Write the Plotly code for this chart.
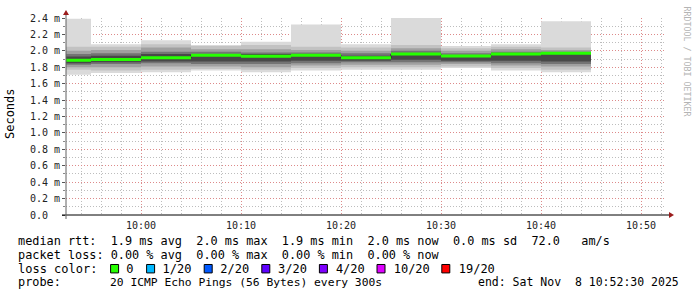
import plotly.graph_objects as go

# ---------------- data (values in milliseconds) ----------------
bin_starts = ["2025-11-08 09:52:30", "2025-11-08 09:55:00", "2025-11-08 10:00:00",
              "2025-11-08 10:05:00", "2025-11-08 10:10:00", "2025-11-08 10:15:00",
              "2025-11-08 10:20:00", "2025-11-08 10:25:00", "2025-11-08 10:30:00",
              "2025-11-08 10:35:00", "2025-11-08 10:40:00"]
bin_end = "2025-11-08 10:45:00"

median_ms = [1.885, 1.895, 1.915, 1.945, 1.935, 1.945, 1.915, 1.962, 1.938, 1.962, 1.970]
max_ms    = [2.39, 2.08, 2.13, 2.07, 2.11, 2.32, 2.08, 2.41, 2.06, 2.08, 2.36]
min_ms    = [1.71, 1.73, 1.74, 1.76, 1.74, 1.76, 1.77, 1.77, 1.79, 1.76, 1.74]
q2_hi     = [2.05, 2.05, 2.08, 2.06, 2.07, 2.05, 2.04, 2.07, 2.03, 2.05, 2.04]
q2_lo     = [1.77, 1.76, 1.77, 1.78, 1.77, 1.79, 1.80, 1.80, 1.81, 1.79, 1.77]
q3_hi     = [2.00, 2.01, 2.04, 2.02, 2.02, 2.01, 2.00, 2.03, 2.00, 2.02, 2.01]
q3_lo     = [1.80, 1.80, 1.81, 1.81, 1.80, 1.82, 1.83, 1.83, 1.84, 1.82, 1.81]
q4_hi     = [1.96, 1.97, 1.99, 1.99, 1.98, 1.98, 1.97, 2.00, 1.97, 1.99, 1.99]
q4_lo     = [1.83, 1.84, 1.85, 1.84, 1.84, 1.85, 1.86, 1.86, 1.86, 1.85, 1.84]
q5_hi     = [1.93, 1.94, 1.96, 1.96, 1.96, 1.96, 1.94, 1.97, 1.95, 1.97, 1.97]
q5_lo     = [1.85, 1.86, 1.87, 1.87, 1.87, 1.88, 1.88, 1.89, 1.88, 1.88, 1.87]

y_tick_vals = [0.0, 0.2, 0.4, 0.6, 0.8, 1.0, 1.2, 1.4, 1.6, 1.8, 2.0, 2.2, 2.4]
y_tick_text = ["0.0", "0.2 m", "0.4 m", "0.6 m", "0.8 m", "1.0 m", "1.2 m",
               "1.4 m", "1.6 m", "1.8 m", "2.0 m", "2.2 m", "2.4 m"]

loss_labels = ["0", "1/20", "2/20", "3/20", "4/20", "10/20", "19/20"]
loss_colors = ["#26ff00", "#00b8ff", "#0059ff", "#5e00ff", "#7e00ff", "#dd00ff", "#ff0000"]

legend_rtt = "median rtt:  1.9 ms avg  2.0 ms max  1.9 ms min  2.0 ms now  0.0 ms sd  72.0   am/s"
legend_loss = "packet loss: 0.00 % avg  0.00 % max  0.00 % min  0.00 % now"
legend_probe_key = "probe:"
legend_probe = "20 ICMP Echo Pings (56 Bytes) every 300s"
legend_end = "end: Sat Nov  8 10:52:30 2025"

# ---------------- geometry helpers ----------------
W, H = 697, 297
L, R, T, B = 66, 666, 16, 215
CW = 7.2  # monospace char width in loss-colour legend line

def px(x):
    return (x - L) / (R - L)

def py(y):
    return (B - y) / (B - T)

def nb(s):
    return s.replace(" ", "\u00a0")

xs = bin_starts + [bin_end]

def step(v):
    return list(v) + [v[-1]]

fig = go.Figure()

bands = [(min_ms, max_ms, "#dadada"), (q2_lo, q2_hi, "#c2c2c2"), (q3_lo, q3_hi, "#a0a0a0"),
         (q4_lo, q4_hi, "#747474"), (q5_lo, q5_hi, "#484848")]
for lo, hi, col in bands:
    fig.add_trace(go.Scatter(x=xs, y=step(lo), mode="lines", line=dict(width=0, shape="hv"),
                             hoverinfo="skip", showlegend=False))
    fig.add_trace(go.Scatter(x=xs, y=step(hi), mode="lines", line=dict(width=0, shape="hv"),
                             fill="tonexty", fillcolor=col, hoverinfo="skip", showlegend=False))

fig.add_trace(go.Scatter(x=xs, y=step(median_ms), mode="lines",
                         line=dict(width=1, shape="hv", color="#202020"),
                         hoverinfo="skip", showlegend=False))
gx, gy = [], []
for i, m in enumerate(median_ms):
    gx += [xs[i], xs[i + 1], None]
    gy += [m, m, None]
fig.add_trace(go.Scatter(x=gx, y=gy, mode="lines", line=dict(width=3, color=loss_colors[0]),
                         hoverinfo="skip", showlegend=False))

shapes = []
# axis lines and arrows
shapes.append(dict(type="line", xref="paper", yref="paper", x0=px(62), x1=px(670), y0=py(215), y1=py(215),
                   line=dict(color="#000000", width=1)))
shapes.append(dict(type="line", xref="paper", yref="paper", x0=px(66), x1=px(66), y0=py(219), y1=py(11),
                   line=dict(color="#606060", width=1)))
shapes.append(dict(type="path", xref="paper", yref="paper",
                   path=f"M {px(63)} {py(13)} L {px(69)} {py(13)} L {px(66)} {py(8)} Z",
                   fillcolor="#9b1c1c", line=dict(color="#9b1c1c", width=0)))
shapes.append(dict(type="path", xref="paper", yref="paper",
                   path=f"M {px(669)} {py(212)} L {px(669)} {py(218)} L {px(674)} {py(215)} Z",
                   fillcolor="#9b1c1c", line=dict(color="#9b1c1c", width=0)))

# loss color legend line
loss_line = "loss color:  "
box_idx = []
for lab in loss_labels:
    box_idx.append(len(loss_line))
    loss_line += "  " + lab + "  "
loss_line = loss_line.rstrip()
for idx, col in zip(box_idx, loss_colors):
    x0 = 16 + idx * CW + 1
    shapes.append(dict(type="rect", xref="paper", yref="paper", x0=px(x0), x1=px(x0 + 8),
                       y0=py(273.5), y1=py(265), fillcolor=col, line=dict(color="#000000", width=1)))

MONO = "DejaVu Sans Mono"
ann = []

def add_text(txt, x, y, size, anchor="left"):
    ann.append(dict(text=nb(txt), xref="paper", yref="paper", x=px(x), y=py(y), xanchor=anchor,
                    yanchor="middle", showarrow=False,
                    font=dict(family=MONO, size=size, color="#000000")))

add_text(legend_rtt, 16, 241.5, 11.85)
add_text(legend_loss, 16, 255.5, 11.85)
add_text(loss_line, 16, 269.5, 12)
add_text(legend_probe_key, 16, 283, 11.85)
add_text(legend_probe, 107.5, 283, 11.3)
add_text(legend_end, 681, 283, 11.5, anchor="right")

ann.append(dict(text="Seconds", xref="paper", yref="paper", x=px(10), y=py(113), xanchor="center",
                yanchor="middle", textangle=-90, showarrow=False,
                font=dict(family=MONO, size=12, color="#000000")))
ann.append(dict(text=nb("RRDTOOL / TOBI OETIKER"), xref="paper", yref="paper", x=px(687), y=py(60),
                xanchor="center", yanchor="middle", textangle=90, showarrow=False,
                font=dict(family=MONO, size=8.3, color="#b4b4b4")))

fig.update_layout(
    width=W, height=H,
    margin=dict(l=L, r=W - R, t=T, b=H - B, pad=0),
    paper_bgcolor="#ffffff", plot_bgcolor="#ffffff",
    font=dict(family=MONO, size=10, color="#000000"),
    showlegend=False,
    shapes=shapes, annotations=ann,
    xaxis=dict(type="date", range=["2025-11-08 09:52:30", "2025-11-08 10:52:30"],
               tick0="2025-11-08 10:00:00", dtick=600000, tickformat="%H:%M",
               showgrid=True, gridcolor="#dd8a8a", griddash="1px,2px", gridwidth=1,
               minor=dict(dtick=120000, showgrid=True, gridcolor="#bdbdbd", griddash="1px,2px"),
               showline=False, zeroline=False, ticks="", ticklabelstandoff=3, layer="above traces",
               tickfont=dict(family=MONO, size=10, color="#222222"),
               fixedrange=True),
    yaxis=dict(range=[0, 2.4], tickmode="array", tickvals=y_tick_vals,
               ticktext=[t if " m" in t else t + "\u00a0\u00a0" for t in y_tick_text],
               showgrid=True, gridcolor="#dd8a8a", griddash="1px,2px", gridwidth=1,
               minor=dict(dtick=0.1, tick0=0, showgrid=True, gridcolor="#bdbdbd", griddash="1px,2px",
                          ticks="outside", ticklen=2, tickcolor="#888888"),
               showline=False, zeroline=False, ticks="outside", ticklen=3, tickcolor="#555555",
               layer="above traces",
               tickfont=dict(family=MONO, size=10, color="#222222"),
               fixedrange=True),
)

fig.write_html("out.html")
